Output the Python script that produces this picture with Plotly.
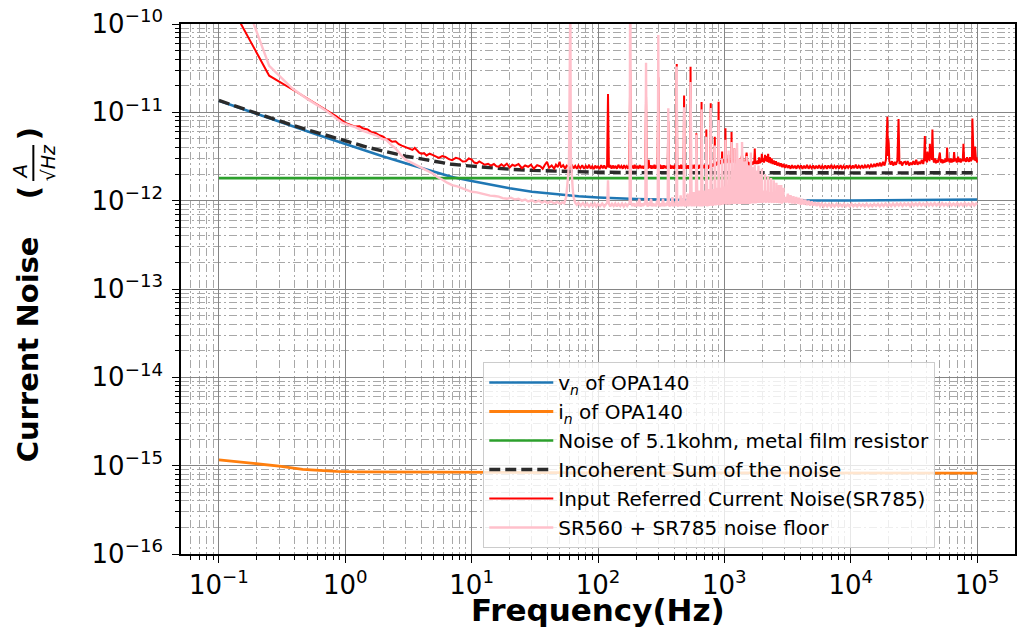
import numpy as np
import plotly.graph_objects as go

# ---------------- data ----------------
# smooth model curves: frequency (Hz) and value
model_freq_hz = [0.1, 0.15, 0.2, 0.3, 0.5, 0.7, 1, 1.5, 2, 3, 5, 7, 10, 15, 20, 30, 50, 70,
                 100, 200, 500, 1e3, 2e3, 5e3, 1e4, 2e4, 5e4, 1e5]
vn_opa140_e12 = [13.5, 11.0, 9.5, 7.8, 6.1, 5.2, 4.36, 3.6, 3.16, 2.65, 2.14, 1.85, 1.67, 1.48,
                 1.38, 1.26, 1.17, 1.12, 1.086, 1.044, 1.018, 1.009, 1.005, 1.003, 1.003, 1.006,
                 1.015, 1.03]
resistor_e12 = [1.8] * len(model_freq_hz)
incoherent_sum_e12 = [13.62, 11.15, 9.67, 8.0, 6.36, 5.5, 4.72, 4.02, 3.64, 3.2, 2.8, 2.58, 2.46,
                      2.34, 2.27, 2.2, 2.15, 2.12, 2.1, 2.08, 2.07, 2.06, 2.06, 2.06, 2.06, 2.063,
                      2.07, 2.075]

in_freq_hz = [0.1, 0.15, 0.2, 0.25, 0.3, 0.46, 0.6, 0.85, 1.2, 1.55, 2.5, 4, 6, 10, 13, 20, 50,
              100, 1e3, 1e4, 1e5]
in_opa140_e15 = [1.16, 1.09, 1.05, 1.02, 0.99, 0.91, 0.885, 0.86, 0.852, 0.85, 0.846, 0.843, 0.84,
                 0.838, 0.837, 0.835, 0.832, 0.83, 0.828, 0.826, 0.825]

# measured spectra: (Hz, value in 1e-12 A/rtHz)
red_low = [(0.125, 160), (0.25, 26), (0.41, 17.1), (0.55, 13.3), (0.7, 10.8), (0.85, 9.0),
           (1.0, 7.6), (1.1, 7.3), (1.2, 6.9), (1.3, 6.95), (1.37, 6.6), (1.5, 6.4), (1.6, 6.0),
           (1.75, 5.8), (1.86, 5.5), (2.0, 5.3), (2.1, 5.0), (2.2, 4.95), (2.35, 4.65),
           (2.5, 4.7), (2.65, 4.35), (2.8, 4.2), (3.0, 4.05), (3.2, 3.9), (3.4, 3.75),
           (3.55, 3.95), (3.7, 3.7), (3.85, 3.5), (4.0, 3.4), (4.2, 3.45), (4.4, 3.25),
           (4.65, 3.4), (4.9, 3.3), (5.2, 3.2), (5.5, 3.05), (5.85, 3.2), (6.2, 3.12),
           (6.6, 2.95), (7.0, 2.88), (7.5, 3.05), (8.0, 2.97), (8.5, 2.78), (9.0, 2.8),
           (9.5, 3.0), (10, 2.92), (10.5, 2.7), (11, 2.65), (11.5, 2.78), (12, 2.7),
           (12.7, 2.55), (13.5, 2.62), (14.2, 2.5), (15, 2.6), (15.7, 2.45)]
red_mid = [(16.4, 2.43), (17.2, 2.58), (18, 2.45), (19, 2.62), (20, 2.38), (21, 2.55),
           (22, 2.47), (23.5, 2.6), (25, 2.33), (26.5, 2.5), (28, 2.42), (29.5, 2.56), (31, 2.3),
           (33, 2.52), (35, 2.45), (36.5, 2.3), (38, 2.55), (39.5, 2.75), (41, 2.36), (43, 2.5),
           (45, 2.3), (46.5, 2.55), (48, 2.4), (49.7, 2.75), (51, 2.38), (53, 2.52), (55, 2.3),
           (56.5, 2.5), (58, 2.45), (60, 2.32), (62, 2.55), (64, 2.32), (66, 2.48), (68, 2.3),
           (70, 2.5), (72.5, 2.33), (75, 2.52), (77.5, 2.3), (80, 2.48), (82.5, 2.32),
           (85, 2.55), (87.5, 2.3), (90, 2.45), (92.5, 2.28), (95, 2.5), (97.5, 2.33),
           (100, 2.47), (103, 2.28), (106, 2.52), (109, 2.33), (112, 2.5), (115, 2.3),
           (118, 2.45), (120, 16.1), (122, 2.38), (125, 2.52), (128, 2.3), (131, 2.5),
           (134, 2.32), (137, 2.48), (141, 2.3), (145, 2.55), (149, 2.33), (153, 2.47),
           (157, 2.3), (161, 2.52), (165, 2.35), (169, 2.46), (173, 2.3), (177, 2.5), (180, 30),
           (183, 2.4), (187, 2.5), (191, 2.3), (195, 2.55), (199, 2.32), (204, 2.48), (209, 2.3),
           (214, 2.52), (219, 2.33), (224, 2.47), (229, 2.3), (234, 2.5), (237, 2.35), (240, 15),
           (243, 2.45), (247, 2.3), (250, 2.4), (252, 2.9), (255, 2.35), (260, 2.52), (265, 2.3),
           (270, 2.5), (275, 2.32), (280, 2.55), (285, 2.3), (290, 2.5), (296, 2.35), (300, 25),
           (304, 2.4), (310, 2.55), (315, 2.3), (320, 2.5), (326, 2.3), (332, 2.52), (338, 2.33),
           (344, 2.48), (350, 2.3), (356, 2.5), (360, 8), (364, 2.35), (370, 2.55), (376, 2.3),
           (382, 2.5), (388, 2.32), (394, 2.48), (400, 2.3), (406, 2.55), (412, 2.33),
           (416, 2.45), (420, 35.2), (424, 2.4), (430, 2.52), (436, 2.3), (442, 2.5), (448, 2.32),
           (454, 2.55), (460, 2.3), (466, 2.5), (472, 2.33), (476, 2.45), (480, 15.5), (484, 2.35),
           (490, 2.55), (497, 2.3), (504, 2.5), (511, 2.32), (518, 2.52), (525, 2.3), (531, 2.5),
           (536, 2.35), (540, 32.9), (544, 2.4), (551, 2.55), (558, 2.3), (565, 2.5), (572, 2.32),
           (579, 2.55), (586, 2.3), (592, 2.5), (596, 2.36), (600, 5.8), (604, 2.4), (612, 2.55),
           (620, 2.3), (628, 2.5), (636, 2.32), (644, 2.55), (652, 2.35), (656, 2.45), (660, 13.1),
           (664, 2.4), (672, 2.55), (680, 2.33), (688, 2.5), (696, 2.32), (704, 2.56), (712, 2.36),
           (716, 2.45), (720, 6.4), (724, 2.4), (733, 2.55), (742, 2.3), (751, 2.5), (760, 2.35),
           (768, 2.55), (776, 2.4), (780, 12.7), (784, 2.45), (793, 2.6), (802, 2.4), (811, 2.62),
           (820, 2.45), (828, 2.6), (836, 2.45), (840, 5.3), (844, 2.55), (853, 2.7), (862, 2.5),
           (871, 2.75), (880, 2.55), (888, 2.8), (896, 2.6), (900, 13.2), (904, 2.6), (913, 2.85),
           (922, 2.6), (931, 2.9), (940, 2.65), (948, 2.85), (956, 2.7), (960, 3.6), (964, 2.75),
           (973, 2.95), (982, 2.7), (991, 2.9), (1000, 2.65), (1008, 2.9), (1016, 2.7),
           (1020, 6.6), (1024, 2.85), (1035, 2.65), (1046, 2.95), (1057, 2.7), (1068, 2.9),
           (1076, 2.75), (1080, 3.3), (1084, 2.8), (1095, 2.65), (1106, 2.9), (1117, 2.7),
           (1128, 2.85), (1136, 2.75), (1140, 6.0), (1144, 2.75), (1156, 2.95), (1168, 2.7),
           (1180, 2.9), (1192, 2.75), (1200, 3.9), (1206, 2.7), (1220, 2.9), (1235, 2.65),
           (1250, 2.85), (1265, 2.6), (1280, 2.8), (1300, 2.6), (1315, 2.85), (1330, 3.0),
           (1345, 2.6), (1360, 2.8), (1380, 3.3), (1400, 2.6), (1420, 2.75), (1445, 2.55),
           (1470, 2.8), (1500, 3.5), (1525, 2.6), (1550, 2.75), (1575, 2.5), (1600, 2.7),
           (1625, 2.5), (1650, 2.75), (1675, 2.55), (1700, 2.8), (1720, 2.55), (1740, 3.9),
           (1760, 2.6), (1785, 2.8), (1810, 2.6), (1835, 2.85), (1860, 2.6), (1885, 3.1),
           (1910, 2.65), (1940, 2.9), (1960, 2.7), (1980, 3.4), (2000, 2.75), (2030, 3.0),
           (2060, 2.7), (2100, 3.3), (2130, 2.8), (2160, 3.2), (2190, 2.75), (2220, 3.4),
           (2250, 2.7), (2290, 3.1), (2330, 2.65), (2370, 3.0), (2410, 2.6), (2460, 2.85),
           (2510, 2.55), (2560, 2.8), (2620, 2.5), (2680, 2.7), (2740, 2.45), (2800, 2.65),
           (2870, 2.4), (2940, 2.6), (3010, 2.35), (3090, 2.55), (3170, 2.35), (3250, 2.5),
           (3340, 2.3), (3430, 2.52), (3520, 2.33), (3620, 2.48), (3720, 2.3), (3820, 2.52),
           (3930, 2.35), (4040, 2.5), (4150, 2.3), (4270, 2.48), (4390, 2.32), (4510, 2.55),
           (4640, 2.3), (4770, 2.47), (4900, 2.33), (5040, 2.5), (5180, 2.3), (5330, 2.48),
           (5480, 2.32), (5630, 2.52), (5790, 2.3), (5950, 2.47), (6120, 2.33), (6290, 2.5),
           (6470, 2.3), (6650, 2.5), (6840, 2.32), (7030, 2.55), (7230, 2.3), (7430, 2.48),
           (7640, 2.35), (7860, 2.5), (8080, 2.3), (8310, 2.52), (8540, 2.33), (8780, 2.47),
           (9030, 2.3), (9280, 2.5), (9540, 2.35), (9810, 2.52), (10090, 2.3), (10370, 2.5),
           (10660, 2.33), (10960, 2.55), (11270, 2.32), (11590, 2.48), (11920, 2.35),
           (12250, 2.52), (12600, 2.33), (12950, 2.5), (13320, 2.35), (13690, 2.55),
           (14080, 2.38), (14480, 2.55), (14890, 2.4)]
red_high = [(15300, 2.6), (15700, 2.42), (16100, 2.65), (16600, 2.45), (17000, 2.7),
            (17500, 2.45), (18000, 2.75), (18500, 2.5), (19000, 2.9), (19500, 8.9),
            (19700, 3.2), (19850, 5.0), (20000, 4.4), (20200, 2.8), (20700, 2.55), (21200, 2.8),
            (21700, 2.5), (22300, 2.75), (22800, 2.55), (23400, 2.85), (23900, 8.4),
            (24300, 2.6), (24900, 2.8), (25500, 2.5), (26100, 2.7), (26900, 2.75), (27500, 2.55),
            (28200, 2.8), (29000, 2.5), (29700, 2.7), (30500, 2.55), (31300, 2.8), (32100, 2.55),
            (33000, 2.9), (33800, 2.55), (34700, 2.75), (35600, 2.6), (36500, 2.9), (37500, 2.6),
            (38100, 3.0), (38600, 5.4), (39100, 2.8), (39600, 3.2), (40100, 2.7), (40500, 3.6),
            (41000, 2.9), (41500, 3.4), (42000, 2.8), (42300, 4.4), (42800, 3.0), (43300, 3.6),
            (43800, 2.9), (44300, 6.4), (44900, 3.0), (45600, 2.7), (46400, 3.0), (47200, 2.65),
            (48000, 2.9), (48900, 2.7), (49800, 3.0), (50700, 3.5), (51500, 2.7), (52400, 2.95),
            (53300, 2.65), (54300, 2.9), (55300, 2.7), (56300, 3.0), (57300, 2.75), (57900, 4.0),
            (58600, 2.8), (59600, 3.0), (60700, 2.7), (61800, 3.0), (62900, 2.7), (64000, 2.95),
            (65000, 2.75), (65800, 3.55), (66700, 2.8), (67900, 3.0), (69100, 2.7), (70000, 3.0),
            (70800, 3.15), (71700, 2.75), (73000, 3.0), (74300, 2.7), (75600, 2.95), (77000, 2.8),
            (78000, 4.4), (79000, 2.8), (80400, 3.0), (81800, 2.75), (83300, 3.1), (84800, 2.8),
            (85300, 2.9), (86400, 2.75), (87900, 3.1), (89500, 2.8), (91000, 3.0), (91800, 8.5),
            (92700, 3.2), (93800, 2.9), (95000, 3.1), (95800, 2.85), (96400, 4.1), (97200, 3.0),
            (98200, 2.8), (99100, 3.1), (100000, 2.7)]

pink_low = [(0.125, 500), (0.25, 33.5), (0.38, 18.7), (0.5, 14.2), (0.7, 10.5), (0.95, 7.6),
            (1.08, 7.1), (1.2, 6.8), (1.33, 6.3), (1.46, 6.0), (1.63, 5.6), (1.8, 5.4),
            (1.95, 5.0), (2.1, 4.9), (2.3, 4.3), (2.5, 3.9), (2.75, 3.3), (3.0, 2.9),
            (3.25, 2.75), (3.5, 2.6), (3.75, 2.45), (4.0, 2.35), (4.45, 2.15), (4.9, 2.04),
            (5.35, 1.85), (5.8, 1.75), (6.4, 1.6), (7.0, 1.5), (7.7, 1.45), (8.5, 1.38),
            (9.2, 1.33), (10, 1.26), (11, 1.24), (12, 1.2), (13, 1.16), (14, 1.14), (15.2, 1.13),
            (16.4, 1.11), (17.6, 1.07), (19, 1.05), (20.5, 1.08), (22, 1.03), (23.5, 1.05),
            (25, 1.0), (26.5, 1.03), (28, 0.98), (30, 1.01), (32, 0.96), (34, 1.0), (36, 0.95),
            (38, 0.99), (40, 0.94), (42.5, 0.98), (45, 0.93), (47.5, 0.97), (50, 0.92),
            (52, 0.96), (54, 0.93)]
pink_mid = [(56, 1.1), (57, 1.4), (58.2, 2.0), (59, 3.0), (59.6, 200), (60.4, 200), (61, 3.0),
            (61.8, 2.0), (63, 1.4), (64, 1.1), (66, 0.95), (68, 0.9), (70, 0.95), (73, 0.88),
            (76, 0.94), (79, 0.87), (82, 0.93), (85, 0.86), (88, 0.92), (91, 0.87), (94, 0.93),
            (97, 0.86), (100, 0.92), (104, 0.87), (108, 0.93), (112, 0.86), (116, 0.92),
            (118.5, 0.95), (120, 1.7), (121.5, 0.94), (125, 0.86), (129, 0.92), (133, 0.87),
            (137, 0.93), (141, 0.86), (145, 0.92), (150, 0.87), (155, 0.93), (160, 0.86),
            (165, 0.92), (170, 0.87), (175, 0.93), (178, 0.95), (179.5, 200), (180.5, 200),
            (182, 0.95), (187, 0.87), (192, 0.93), (197, 0.86), (202, 0.92), (207, 0.87),
            (212, 1.05), (217, 0.86), (222, 0.93), (227, 0.87), (232, 0.92), (237, 0.9),
            (240, 36.5), (243, 0.92), (248, 0.86), (253, 0.95), (258, 0.87), (263, 1.05),
            (268, 0.86), (273, 0.93), (278, 0.87), (283, 0.92), (288, 0.86), (293, 1.0),
            (297, 0.9), (300, 75), (303, 0.9), (309, 0.86), (315, 0.93), (321, 0.87), (327, 1.05),
            (333, 0.86), (339, 0.93), (345, 0.87), (351, 0.95), (356, 0.88), (360, 11.1),
            (364, 0.9), (370, 0.86), (376, 0.95), (382, 0.87), (388, 1.1), (394, 0.86),
            (400, 0.93), (406, 0.87), (412, 0.95), (417, 0.88), (420, 33), (423, 0.9),
            (430, 0.86), (437, 0.95), (444, 0.87), (451, 1.15), (458, 0.86), (465, 1.05),
            (471, 0.87), (476, 0.92), (480, 11.4), (484, 0.9), (491, 0.86), (498, 1.0),
            (505, 0.87), (512, 1.2), (519, 0.86), (526, 1.05), (532, 0.88), (536, 0.93),
            (540, 22), (544, 0.9), (551, 0.86), (558, 1.05), (565, 0.87), (572, 1.25),
            (579, 0.86), (586, 1.1), (592, 0.88), (596, 0.93), (600, 5.6), (604, 0.9),
            (612, 0.86), (620, 1.1), (628, 0.87), (636, 1.3), (644, 0.86), (651, 1.1), (656, 0.9),
            (660, 10.8), (664, 0.9), (672, 0.86), (680, 1.15), (688, 0.87), (696, 1.3),
            (704, 0.87), (712, 1.1), (716, 0.9), (720, 5.3), (724, 0.9), (733, 0.86), (742, 1.2),
            (751, 0.87), (760, 1.35), (768, 0.88), (776, 0.95), (780, 11.2), (784, 0.9),
            (793, 0.88), (802, 1.2), (811, 0.87), (820, 1.35), (830, 0.9), (836, 0.95),
            (840, 4.2), (844, 0.92), (853, 0.88), (862, 1.25), (871, 0.9), (880, 1.4), (890, 0.9),
            (896, 0.95), (900, 8.2), (904, 0.93), (914, 0.88), (924, 1.3), (934, 0.9), (942, 1.4),
            (952, 0.9), (956, 0.95), (960, 3.0), (964, 0.95), (975, 0.9), (985, 1.35),
            (995, 0.92), (1004, 1.45), (1012, 0.92), (1016, 0.95), (1020, 4.9), (1024, 0.95),
            (1035, 0.9), (1045, 1.4), (1055, 0.92), (1064, 1.5), (1072, 0.92), (1076, 0.95),
            (1080, 3.7), (1084, 0.95), (1095, 0.9), (1105, 1.35), (1115, 0.93), (1124, 1.45),
            (1132, 0.93), (1136, 0.95), (1140, 4.6), (1144, 0.95), (1155, 0.92), (1165, 1.4),
            (1175, 0.93), (1184, 1.45), (1192, 0.93), (1196, 0.96), (1200, 3.9), (1204, 0.96),
            (1215, 0.92), (1225, 1.35), (1235, 0.93), (1244, 1.4), (1252, 0.93), (1256, 0.96),
            (1260, 4.5), (1264, 0.96), (1275, 0.92), (1285, 1.3), (1295, 0.93), (1304, 1.35),
            (1312, 0.93), (1316, 0.95), (1320, 3.0), (1324, 0.95), (1335, 0.92), (1345, 1.3),
            (1355, 0.93), (1364, 1.35), (1372, 0.92), (1376, 0.95), (1380, 4.6), (1385, 0.95),
            (1400, 0.92), (1410, 1.3), (1420, 0.93), (1430, 1.3), (1436, 0.95), (1440, 2.8),
            (1445, 0.95), (1460, 0.92), (1475, 1.3), (1485, 0.93), (1496, 0.95), (1500, 3.2),
            (1505, 0.95), (1520, 0.92), (1535, 1.35), (1550, 0.93), (1556, 0.95), (1560, 2.5),
            (1565, 0.95), (1580, 0.92), (1600, 1.3), (1612, 0.95), (1620, 3.5), (1628, 0.96),
            (1645, 0.93), (1660, 1.3), (1672, 0.95), (1680, 2.4), (1688, 0.96), (1705, 0.93),
            (1720, 1.25), (1732, 0.95), (1740, 2.6), (1748, 0.96), (1765, 0.93), (1780, 1.3),
            (1792, 0.95), (1800, 2.2), (1808, 0.97), (1825, 0.94), (1840, 1.3), (1852, 0.96),
            (1860, 2.5), (1868, 0.97), (1885, 0.94), (1900, 1.25), (1912, 0.96), (1920, 2.0),
            (1928, 0.97), (1945, 0.94), (1960, 1.3), (1972, 0.96), (1980, 2.3), (1988, 0.98),
            (2020, 0.95), (2050, 1.3), (2090, 0.97), (2100, 2.0), (2110, 0.98), (2135, 0.95),
            (2160, 1.3), (2210, 0.97), (2220, 1.9), (2230, 0.98), (2255, 0.95), (2280, 1.25),
            (2330, 0.97), (2340, 1.8), (2350, 0.98), (2375, 0.95), (2400, 1.25), (2450, 0.96),
            (2460, 1.7), (2470, 0.97), (2495, 0.95), (2520, 1.2), (2570, 0.96), (2580, 1.6),
            (2590, 0.97), (2615, 0.95), (2640, 1.2), (2690, 0.96), (2700, 1.5), (2710, 0.97),
            (2735, 0.94), (2760, 1.2), (2810, 0.95), (2820, 1.5), (2830, 0.96), (2855, 0.93),
            (2880, 1.15), (2930, 0.95), (2940, 1.4), (2950, 0.96)]
pink_high = [(3020, 1.1), (3100, 0.95), (3180, 1.2), (3260, 0.94), (3340, 1.15), (3430, 0.93),
             (3520, 1.12), (3610, 0.92), (3710, 1.1), (3810, 0.92), (3910, 1.08), (4020, 0.9),
             (4130, 1.05), (4250, 0.9), (4370, 1.03), (4500, 0.89), (4630, 1.0), (4770, 0.88),
             (4910, 0.98), (5060, 0.88), (5220, 0.96), (5380, 0.87), (5550, 0.95), (5730, 0.87),
             (5910, 0.93), (6100, 0.86), (6300, 0.92), (6510, 0.86), (6730, 0.92), (6960, 0.86),
             (7200, 0.91), (7450, 0.86), (7710, 0.92), (7980, 0.86), (8260, 0.91), (8550, 0.86),
             (8850, 0.92), (9160, 0.86), (9480, 0.91), (9810, 0.86), (10150, 0.92),
             (10500, 0.86), (10870, 0.91), (11250, 0.86), (11640, 0.92), (12050, 0.87),
             (12470, 0.91), (12910, 0.86), (13360, 0.92), (13830, 0.86), (14310, 0.91),
             (14810, 0.86), (15330, 0.92), (15870, 0.87), (16430, 0.92), (17000, 0.86),
             (17600, 0.92), (18220, 0.87), (18860, 0.93), (19520, 0.87), (20200, 0.92),
             (20900, 0.87), (21600, 0.93), (22400, 0.87), (23200, 0.93), (24000, 0.88),
             (24800, 0.93), (25700, 0.87), (26600, 0.93), (27500, 0.88), (28500, 0.93),
             (29500, 0.87), (30500, 0.94), (31600, 0.88), (32700, 0.93), (33800, 0.88),
             (35000, 0.94), (36200, 0.88), (37500, 0.93), (38800, 0.88), (40200, 0.94),
             (41600, 0.88), (43000, 0.93), (44500, 0.88), (46100, 0.94), (47700, 0.88),
             (49400, 0.93), (51100, 0.88), (52900, 0.94), (54700, 0.88), (56600, 0.93),
             (58600, 0.88), (60700, 0.94), (62800, 0.88), (65000, 0.93), (67300, 0.88),
             (69600, 0.94), (72100, 0.88), (74600, 0.93), (77200, 0.88), (79900, 0.94),
             (82700, 0.88), (85600, 0.93), (88600, 0.88), (91700, 0.94), (94900, 0.88),
             (98200, 0.93), (100000, 0.9)]

x_tick_vals = [1e-1, 1e0, 1e1, 1e2, 1e3, 1e4, 1e5]
x_tick_text = ["10<sup>\u22121</sup>", "10<sup>0</sup>", "10<sup>1</sup>", "10<sup>2</sup>",
               "10<sup>3</sup>", "10<sup>4</sup>", "10<sup>5</sup>"]
y_tick_vals = [1e-16, 1e-15, 1e-14, 1e-13, 1e-12, 1e-11, 1e-10]
y_tick_text = ["10<sup>\u221216</sup>", "10<sup>\u221215</sup>", "10<sup>\u221214</sup>",
               "10<sup>\u221213</sup>", "10<sup>\u221212</sup>", "10<sup>\u221211</sup>",
               "10<sup>\u221210</sup>"]

# ---------------- figure ----------------
FONT = "DejaVu Sans"
e12 = 1e-12


def split(points):
    return [p[0] for p in points], [p[1] * e12 for p in points]


red_x, red_y = split(red_low + red_mid + red_high)
pink_x, pink_y = split(pink_low + pink_mid + pink_high)

fig = go.Figure()
fig.add_trace(go.Scatter(x=model_freq_hz, y=np.array(vn_opa140_e12) * e12, mode="lines",
                         name="v<sub><i>n</i></sub> of OPA140",
                         line=dict(color="#1f77b4", width=2.6)))
fig.add_trace(go.Scatter(x=in_freq_hz, y=np.array(in_opa140_e15) * 1e-15, mode="lines",
                         name="i<sub><i>n</i></sub> of OPA140",
                         line=dict(color="#ff7f0e", width=2.8)))
fig.add_trace(go.Scatter(x=model_freq_hz, y=np.array(resistor_e12) * e12, mode="lines",
                         name="Noise of 5.1kohm, metal film resistor",
                         line=dict(color="#2ca02c", width=2.6)))
fig.add_trace(go.Scatter(x=model_freq_hz, y=np.array(incoherent_sum_e12) * e12, mode="lines",
                         name="Incoherent Sum of the noise",
                         line=dict(color="#2b2b2b", width=3.4, dash="11px,5px")))
fig.add_trace(go.Scatter(x=red_x, y=red_y, mode="lines",
                         name="Input Referred Current Noise(SR785)",
                         line=dict(color="#ff0000", width=2.0)))
fig.add_trace(go.Scatter(x=pink_x, y=pink_y, mode="lines",
                         name="SR560 + SR785 noise floor",
                         line=dict(color="#ffc0cb", width=2.4)))

x_minor = [m * 10.0 ** k for k in range(-2, 6) for m in range(2, 10)]
y_minor = [m * 10.0 ** k for k in range(-17, -9) for m in range(2, 10)]

axis_common = dict(
    type="log", showgrid=True, gridcolor="#858585", gridwidth=1.3,
    showline=True, linecolor="black", linewidth=1.5, mirror=True,
    ticks="outside", ticklen=7, tickwidth=1.3, tickcolor="black",
    tickfont=dict(family=FONT, size=26, color="black"),
    zeroline=False,
)
minor_common = dict(tickmode="array", ticks="outside", ticklen=4, tickcolor="black",
                    showgrid=True, gridcolor="#a8a8a8", griddash="8px,3px,2px,3px", gridwidth=1)
fig.update_xaxes(**axis_common, range=[-1.3, 5.3], tickmode="array", tickvals=x_tick_vals,
                 ticktext=x_tick_text, minor=dict(tickvals=x_minor, **minor_common))
fig.update_yaxes(**axis_common, range=[-16, -10], tickmode="array", tickvals=y_tick_vals,
                 ticktext=y_tick_text, ticklabelstandoff=4,
                 minor=dict(tickvals=y_minor, **minor_common))

L, R, T, B = 181, 1, 24, 73
W, H = 1018, 627
PW, PH = W - L - R, H - T - B


def px(xp):
    return (xp - L) / PW


def py(yp):
    return (H - B - yp) / PH


annotations = [
    dict(text="<b>Frequency(Hz)</b>", x=px(599), y=py(610), font=dict(size=31)),
    dict(text="<b>Current Noise</b>", x=px(28), y=py(349), textangle=-90, font=dict(size=29)),
    dict(text="<b>(</b>", x=px(29), y=py(193), textangle=-90, font=dict(size=29)),
    dict(text="<b>)</b>", x=px(29), y=py(134), textangle=-90, font=dict(size=29)),
    dict(text="<i>A</i>", x=px(20), y=py(171), textangle=-90, font=dict(size=20)),
    dict(text="\u221a<i>Hz</i>", x=px(48), y=py(163), textangle=-90, font=dict(size=19)),
]
for a in annotations:
    a.update(xref="paper", yref="paper", showarrow=False, xanchor="center", yanchor="middle")
    a["font"].update(family=FONT, color="black")

fig.update_layout(
    width=W, height=H, autosize=False,
    margin=dict(l=L, r=R, t=T, b=B, pad=0),
    plot_bgcolor="white", paper_bgcolor="white",
    font=dict(family=FONT, color="black"),
    annotations=annotations,
    shapes=[dict(type="line", xref="paper", yref="paper", x0=px(33), x1=px(33),
                 y0=py(145), y1=py(181), line=dict(color="black", width=2))],
    showlegend=True,
    legend=dict(x=px(484), y=py(362), xanchor="left", yanchor="top",
                bgcolor="rgba(255,255,255,0.8)", bordercolor="#cccccc", borderwidth=1,
                font=dict(family=FONT, size=20, color="black"), itemwidth=64,
                tracegroupgap=0),
)

fig.write_html("out.html", config={"displayModeBar": False},
               post_script="document.body.style.margin='0';document.body.style.overflow='hidden';")
